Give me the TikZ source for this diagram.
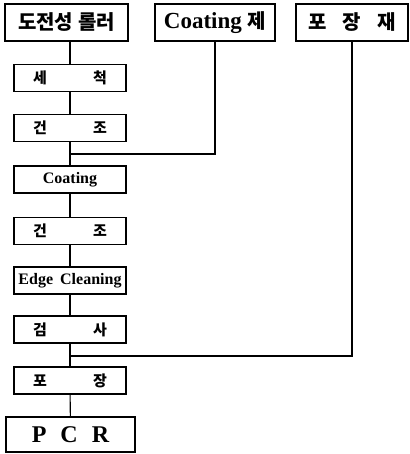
\documentclass[tikz,border=0pt]{standalone}
\usepackage{fontspec}
\setmainfont{Liberation Serif}
\newfontfamily\kr{Noto Sans CJK KR}
\newcommand{\fs}[1]{\fontsize{#1}{#1}\selectfont}
\tikzset{
	topbox/.style={draw,line width=1.7pt,minimum height=37pt,inner sep=0pt,font=\bfseries},
	stepbox/.style={draw,line width=1.3pt,minimum width=112pt,minimum height=27pt,inner sep=0pt,font=\bfseries},
	link/.style={line width=1.1pt}
}

\begin{document}
\begin{tikzpicture}[x=1pt,y=-1pt]
		\useasboundingbox (0,0) rectangle (409,454);
		\node[topbox,minimum width=123pt] (roller) at (66.5,22.5) {\kr\fs{20}도전성\hspace{5pt}롤러};
		\node[topbox,minimum width=120pt] (coat) at (215,22.5) {\fs{23}Coating {\kr\fs{20}제}};
		\node[topbox,minimum width=112pt] (pack) at (352,22.5) {\kr\fs{20}포\hspace{16pt}장\hspace{16pt}재};
		\node[stepbox] (wash) at (70,78) {\kr\fs{15}세\hspace{46pt}척};
		\node[stepbox] (dry1) at (70,128) {\kr\fs{15}건\hspace{46pt}조};
		\node[stepbox] (coating) at (70,179.5) {\fs{16}Coating};
		\node[stepbox] (dry2) at (70,231) {\kr\fs{15}건\hspace{46pt}조};
		\node[stepbox] (edge) at (70,280.5) {\fs{16}Edge\hspace{7pt}Cleaning};
		\node[stepbox] (insp) at (70,329.5) {\kr\fs{15}검\hspace{46pt}사};
		\node[stepbox] (packing) at (70,380.5) {\kr\fs{15}포\hspace{46pt}장};
		\node[topbox,minimum width=129pt,minimum height=35pt] (pcr) at (70.5,434.5) {\fs{24}P\hspace{14pt}C\hspace{14pt}R};
		\coordinate (j1) at (70,154);
		\coordinate (j2) at (70,356);
		\draw[link] (roller.south -| wash.north) -- (wash.north);
		\draw[link] (wash) -- (dry1);
		\draw[link] (dry1) -- (coating);
		\draw[link] (coating) -- (dry2);
		\draw[link] (dry2) -- (edge);
		\draw[link] (edge) -- (insp);
		\draw[link] (insp) -- (packing);
		\draw[link] (packing) -- (pcr);
		\draw[link] (coat.south) |- (j1);
		\draw[link] (pack.south) |- (j2);
	\end{tikzpicture}
\end{document}
